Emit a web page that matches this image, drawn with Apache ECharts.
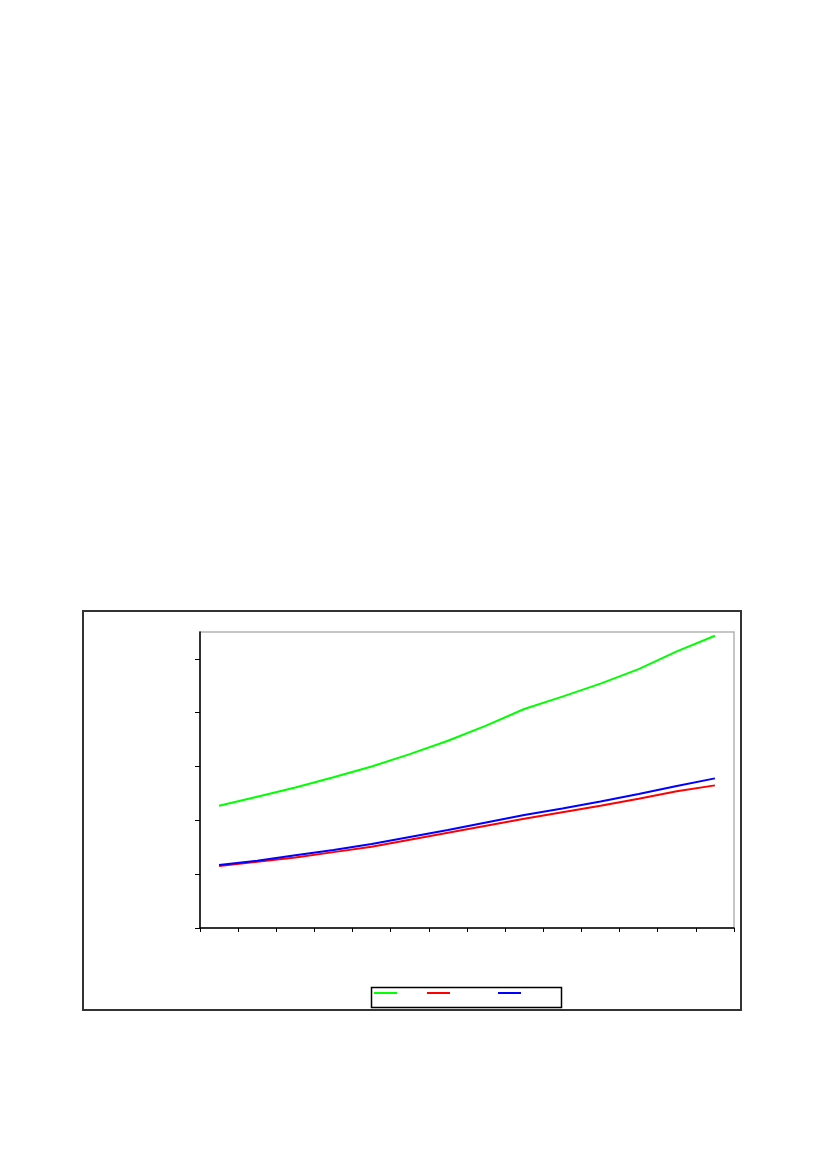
<!DOCTYPE html>
<html>
<head>
<meta charset="utf-8">
<script src="https://cdn.jsdelivr.net/npm/echarts@6/dist/echarts.min.js"></script>
<style>html,body{margin:0;padding:0;background:#fff}#c{width:827px;height:1169px}</style>
</head>
<body>
<div id="c"></div>
<script>
const categories = ['1','2','3','4','5','6','7','8','9','10','11','12','13','14'];
const greenValues = [2.27,2.44,2.61,2.80,3.00,3.23,3.48,3.76,4.07,4.30,4.54,4.81,5.14,5.43];
const redValues   = [1.15,1.23,1.31,1.41,1.51,1.64,1.77,1.90,2.03,2.15,2.27,2.40,2.54,2.65];
const blueValues  = [1.17,1.25,1.35,1.45,1.56,1.69,1.82,1.96,2.10,2.22,2.35,2.49,2.64,2.78];
const yTicks = [0,1,2,3,4,5];
const seriesNames = ['Série 1','Série 2','Série 3'];

const chart = echarts.init(document.getElementById('c'), null, {renderer:'canvas'});
const mkLegend = (name, left) => ({
  left: left, top: 992, data: [name], icon: 'rect', itemWidth: 23, itemHeight: 2,
  padding: 0, formatter: () => '', textStyle: {fontSize: 1, color: '#fff'}, selectedMode: false
});
chart.setOption({
  animation: false,
  backgroundColor: '#fff',
  graphic: [
    {type:'rect', shape:{x:83, y:611, width:658, height:399}, style:{fill:'none', stroke:'#333', lineWidth:2}, z:0},
    {type:'rect', shape:{x:371.5, y:987.5, width:190, height:20}, style:{fill:'#fff', stroke:'#000', lineWidth:1.5}, z:0}
  ],
  legend: [mkLegend(seriesNames[0], 374), mkLegend(seriesNames[1], 427), mkLegend(seriesNames[2], 498)],
  grid: {left:200, right:93, top:632, bottom:241, show:true, borderColor:'#b4b4b4', borderWidth:1.5, backgroundColor:'#fff'},
  xAxis: {
    type:'category', data: categories, boundaryGap:true,
    axisLine:{lineStyle:{color:'#000', width:1.5}},
    axisTick:{show:true, length:4, inside:false, lineStyle:{color:'#000', width:1}},
    axisLabel:{show:false}, splitLine:{show:false}
  },
  yAxis: {
    type:'value', min:0, max:5.5, interval:1,
    axisLine:{show:true, lineStyle:{color:'#000', width:1.5}},
    axisTick:{show:true, length:5, inside:false, customValues: yTicks, lineStyle:{color:'#000', width:1}},
    axisLabel:{show:false}, splitLine:{show:false}
  },
  series: [
    {name: seriesNames[0], type:'line', data: greenValues, showSymbol:false, symbol:'none', lineStyle:{color:'#00ff00', width:2}, itemStyle:{color:'#00ff00'}},
    {name: seriesNames[1], type:'line', data: redValues, showSymbol:false, symbol:'none', lineStyle:{color:'#ff0000', width:2}, itemStyle:{color:'#ff0000'}},
    {name: seriesNames[2], type:'line', data: blueValues, showSymbol:false, symbol:'none', lineStyle:{color:'#0000ff', width:2}, itemStyle:{color:'#0000ff'}}
  ]
});
</script>
</body>
</html>
